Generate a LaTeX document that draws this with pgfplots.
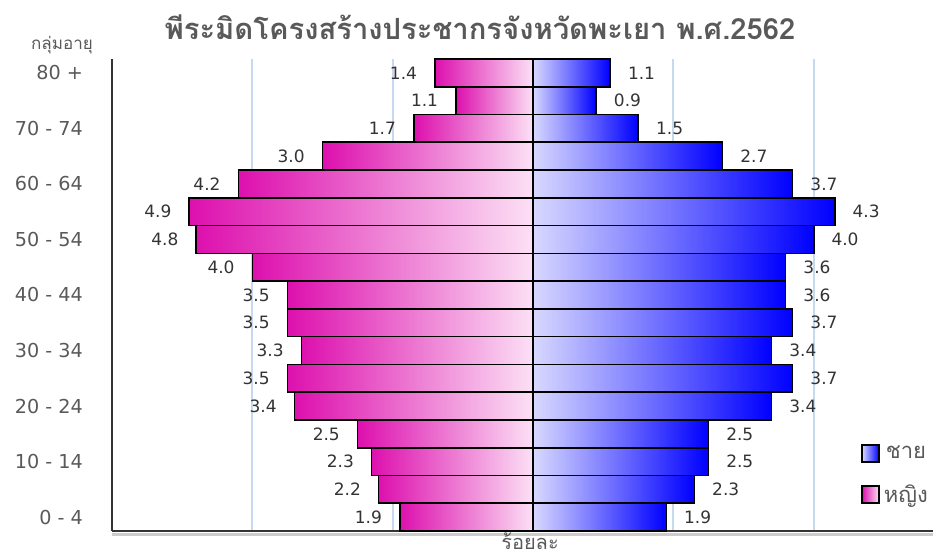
\documentclass[border=0pt]{standalone}
\usepackage{pgfplots}
\pgfplotsset{compat=1.18}
\usepackage{pgfplotstable}
\usepackage{fontspec}
\setmainfont{DejaVu Sans}
\newfontfamily\thai[Script=Thai]{Loma}
\definecolor{magA}{HTML}{DD10AE}
\definecolor{magB}{HTML}{FCE0F5}
\definecolor{bluA}{HTML}{D8D8FF}
\definecolor{bluB}{HTML}{0000FF}
\definecolor{gridc}{HTML}{C6D9F0}
\definecolor{txtg}{HTML}{595959}
\pgfplotstableread{
i f m
0 1.9 1.9
1 2.2 2.3
2 2.3 2.5
3 2.5 2.5
4 3.4 3.4
5 3.5 3.7
6 3.3 3.4
7 3.5 3.7
8 3.5 3.6
9 4.0 3.6
10 4.8 4.0
11 4.9 4.3
12 4.2 3.7
13 3.0 2.7
14 1.7 1.5
15 1.1 0.9
16 1.4 1.1
}\pop
\begin{document}
\begin{tikzpicture}[x=0.5pt,y=0.5pt]
\path (0,0) rectangle (950,554);
\begin{axis}[
  at={(56pt,11.5pt)}, anchor=south west,
  scale only axis, width=410.5pt, height=236pt,
  xmin=-6, xmax=5.70, ymin=-0.5, ymax=16.5,
  xbar, bar width=1,
  axis x line*=bottom, axis y line*=left,
  axis line style={draw=black!80, line width=0.8pt},
  xtick={-6,-4,-2,0,2,4}, xticklabels={},
  xmajorgrids, grid style={draw=gridc, line width=1pt},
  major tick length=0pt,
  ytick={0,2,...,16},
  yticklabels={0 - 4,10  - 14,20 - 24,30 - 34,40 - 44,50 - 54,60 - 64,70 - 74,80 +},
  yticklabel style={font=\fontsize{9.6}{11}\selectfont, text=txtg, anchor=east, xshift=-11pt},
  point meta=explicit,
  /pgf/number format/assume math mode=true,
  nodes near coords={\pgfmathprintnumber[fixed,fixed zerofill,precision=1,assume math mode=true]{\pgfplotspointmeta}},
  every node near coord/.append style={font=\fontsize{8.5}{10}\selectfont, text=black!80, inner sep=0pt},
  legend style={at={(0.912,0.19)}, anchor=north west, draw=none, fill=none,
    font=\thai\fontsize{11}{13}\selectfont, text=txtg, row sep=7.5pt, inner sep=0pt,
    /tikz/every even column/.append style={column sep=3pt}},
  legend image code/.code={\draw[#1,draw=black,line width=0.9pt] (0pt,-4.25pt) rectangle (8.5pt,4.25pt);},
  clip=false,
]
\pgfplotsinvokeforeach{0,...,16}{
\addplot[forget plot, bar shift=0pt, draw=black, line width=0.8pt, left color=bluA, right color=bluB,
  restrict expr to domain={\coordindex}{#1:#1},
  every node near coord/.append style={anchor=west, xshift=8.5pt}]
  table[x=m, y=i, meta=m] {\pop};
\addplot[forget plot, bar shift=0pt, draw=black, line width=0.8pt, left color=magA, right color=magB,
  restrict expr to domain={\coordindex}{#1:#1},
  every node near coord/.append style={anchor=east, xshift=-8.5pt}]
  table[x expr=-\thisrow{f}, y=i, meta=f] {\pop};
}
\addlegendimage{draw=black, left color=bluA, right color=bluB}
\addlegendentry{ชาย}
\addlegendimage{draw=black, left color=magA, right color=magB}
\addlegendentry{หญิง}
\draw[black!20, line width=1.5pt] ([yshift=-1.6pt]rel axis cs:0,0) -- ([yshift=-1.6pt]rel axis cs:1,0);
\end{axis}
\node[font=\thai\bfseries\fontsize{14.6}{17}\selectfont, text=txtg] at (480,527) {พีระมิดโครงสร้างประชากรจังหวัดพะเยา พ.ศ.2562};
\node[font=\thai\fontsize{8.5}{10}\selectfont, text=txtg] at (62,509) {กลุ่มอายุ};
\node[font=\thai\fontsize{10}{12}\selectfont, text=txtg] at (530,13) {ร้อยละ};
\end{tikzpicture}
\end{document}
